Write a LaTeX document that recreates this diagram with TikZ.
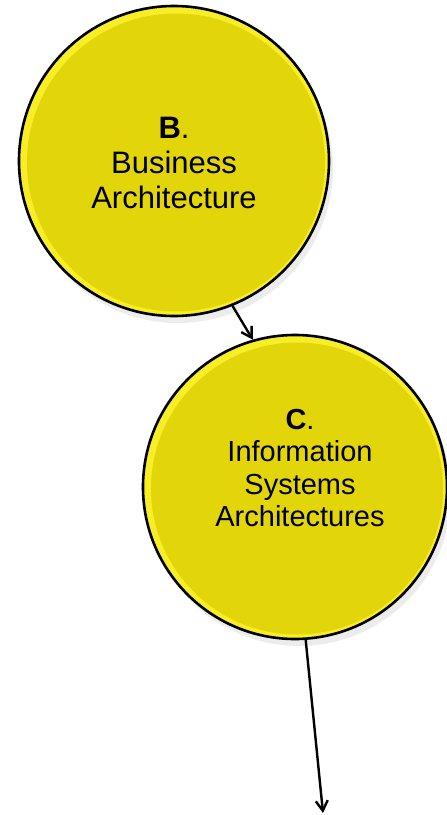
\documentclass[tikz,border=0pt]{standalone}
\usepackage{xcolor}
\usepackage{fontspec}
\setmainfont{Liberation Sans}
\usepackage{tikz}
\usetikzlibrary {shadows, positioning, shapes, arrows.meta}
\definecolor{phaseyellow}{RGB}{226,214,10}
\definecolor{phaselight}{RGB}{248,238,40}
\tikzset{
  phase/.style={circle, draw=black, line width=2.6pt, fill=phaselight, inner sep=0pt,
    minimum size=#1, drop shadow={opacity=0.15, shadow xshift=4pt, shadow yshift=-7pt},
    path picture={\fill[phaseyellow] ([shift={(2pt,-1.5pt)}]path picture bounding box.center) circle[radius={0.5*#1-6pt}];}},
  phasetext/.style={align=center, text=black},
  flow/.style={-{Straight Barb[length=10pt,width=12pt]}, line width=2.4pt}
}

\begin{document}
\begin{tikzpicture}[x=1pt, y=1pt]
    \useasboundingbox (0,0) rectangle (447,-815);
    \node [phase=310pt] (b) at (174,-161) {};
    \node [phasetext, font=\fontsize{31}{35}\selectfont] (btext) at (174,-163) {\textbf{B}.\\Business\\Architecture};
    \node [phase=304pt] (c) at (295,-487) {};
    \node [phasetext, font=\fontsize{29}{32.5}\selectfont] (ctext) at (300,-468) {\textbf{C}.\\Information\\Systems\\Architectures};
    \coordinate (cout) at (323,-813);
    \draw [flow] (b.-68) -- (c.106);
    \draw [flow] (c.-86) -- (cout);
  \end{tikzpicture}
\end{document}
